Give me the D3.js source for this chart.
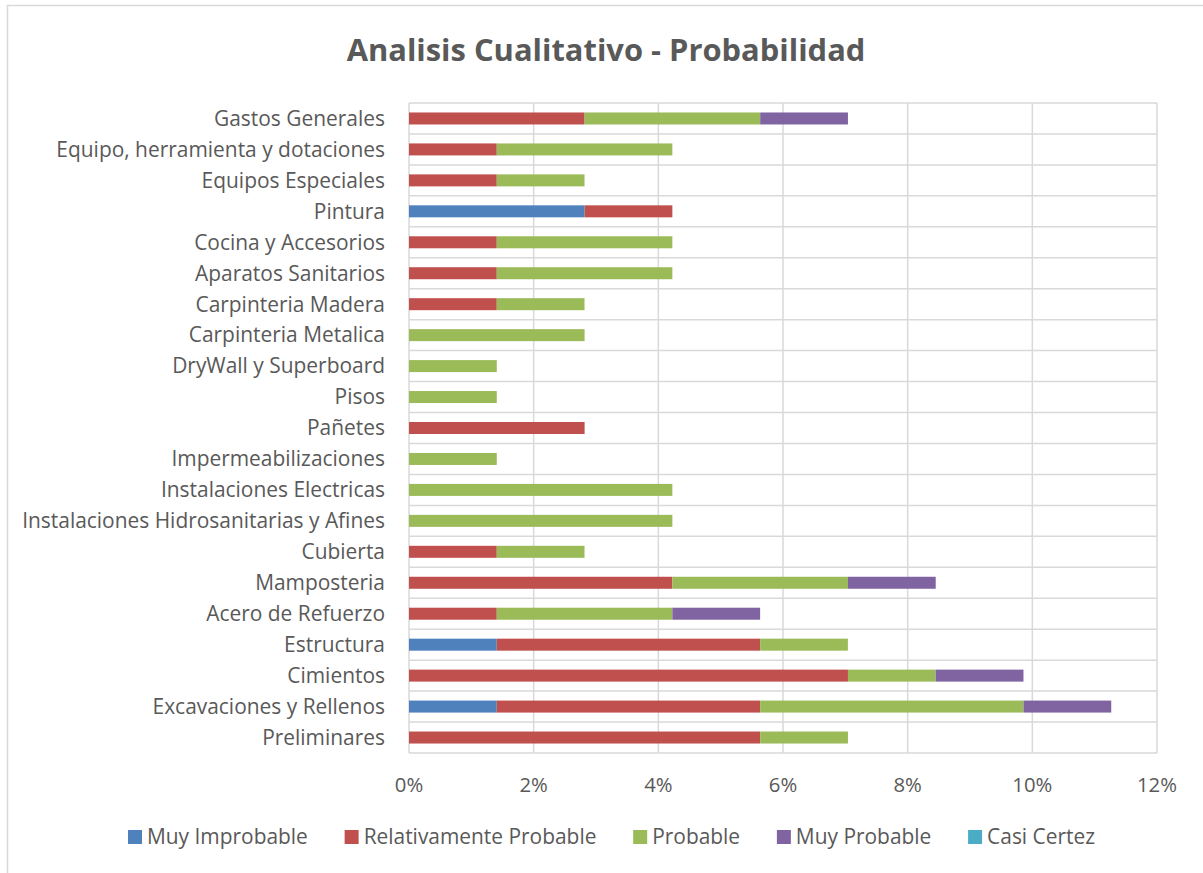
<!DOCTYPE html>
<html><head><meta charset="utf-8">
<script src="https://cdn.jsdelivr.net/npm/d3@7"></script>
<style>
body{margin:0;background:#fff;}
svg{display:block;font-family:"Open Sans","Noto Sans",sans-serif;}
</style></head>
<body>
<svg id="c" width="1203" height="873"></svg>
<script>
const categories = ["Gastos Generales","Equipo, herramienta y dotaciones","Equipos Especiales","Pintura","Cocina y Accesorios","Aparatos Sanitarios","Carpinteria Madera","Carpinteria Metalica","DryWall y Superboard","Pisos","Pañetes","Impermeabilizaciones","Instalaciones Electricas","Instalaciones Hidrosanitarias y Afines","Cubierta","Mamposteria","Acero de Refuerzo","Estructura","Cimientos","Excavaciones y Rellenos","Preliminares"];
const seriesNames = ["Muy Improbable","Relativamente Probable","Probable","Muy Probable","Casi Certez"];
const muyImprobable = [0,0,0,2.817,0,0,0,0,0,0,0,0,0,0,0,0,0,1.408,0,1.408,0];
const relativamenteProbable = [2.817,1.408,1.408,1.408,1.408,1.408,1.408,0,0,0,2.817,0,0,0,1.408,4.225,1.408,4.225,7.042,4.225,5.634];
const probable = [2.817,2.817,1.408,0,2.817,2.817,1.408,2.817,1.408,1.408,0,1.408,4.225,4.225,1.408,2.817,2.817,1.408,1.408,4.225,1.408];
const muyProbable = [1.408,0,0,0,0,0,0,0,0,0,0,0,0,0,0,1.408,1.408,0,1.408,1.408,0];
const casiCertez = [0,0,0,0,0,0,0,0,0,0,0,0,0,0,0,0,0,0,0,0,0];
const xTicks = [0,2,4,6,8,10,12];
const colors = ["#4F81BD","#C0504D","#9BBB59","#8064A2","#4BACC6"];

const svg = d3.select("#c");
const textColor = "#595959";
const grid = "#d9d9d9";

// fit a font size so that a reference string has a given width
function fitSize(str, target, weight){
  const t = svg.append("text").attr("font-size",20).attr("font-weight",weight||"normal").text(str);
  const w = t.node().getComputedTextLength();
  t.remove();
  return 20*target/w;
}
const labelSize = fitSize("Instalaciones Hidrosanitarias y Afines", 363);
const titleSize = fitSize("Analisis Cualitativo - Probabilidad", 519, "bold");
const tickSize = fitSize("12%", 40);
const legendSize = fitSize("Muy Improbable", 161);

// chart border
svg.append("rect").attr("x",7.5).attr("y",5.5).attr("width",1210).attr("height",880)
  .attr("fill","none").attr("stroke","#d9d9d9").attr("stroke-width",1.5);

svg.append("text").attr("x",606).attr("y",61).attr("text-anchor","middle")
  .attr("font-size",titleSize).attr("font-weight","bold").attr("fill",textColor)
  .text("Analisis Cualitativo - Probabilidad");

const m = {left:409, right:1157, top:103, bottom:753};
const x = d3.scaleLinear().domain([0,12]).range([m.left,m.right]);
const y = d3.scaleBand().domain(categories).range([m.top,m.bottom]).paddingInner(0).paddingOuter(0);

const g = svg.append("g");
g.selectAll(".vg").data(xTicks).join("line")
  .attr("x1",d=>x(d)).attr("x2",d=>x(d)).attr("y1",m.top).attr("y2",m.bottom)
  .attr("stroke",grid).attr("stroke-width",1.5);
const bounds = categories.map(c=>y(c)).concat([m.bottom]);
g.selectAll(".hg").data(bounds).join("line")
  .attr("x1",m.left).attr("x2",m.right).attr("y1",d=>d).attr("y2",d=>d)
  .attr("stroke",grid).attr("stroke-width",1.5);

const table = categories.map((c,i)=>({cat:c,"Muy Improbable":muyImprobable[i],"Relativamente Probable":relativamenteProbable[i],"Probable":probable[i],"Muy Probable":muyProbable[i],"Casi Certez":casiCertez[i]}));
const stacked = d3.stack().keys(seriesNames)(table);
const barH = 12;
stacked.forEach((s,si)=>{
  g.selectAll(".b"+si).data(s.filter(d=>d[1]-d[0]>0)).join("rect")
    .attr("x",d=>x(d[0])).attr("width",d=>x(d[1])-x(d[0]))
    .attr("y",d=>y(d.data.cat)+y.bandwidth()/2-barH/2).attr("height",barH)
    .attr("fill",colors[si]);
});

svg.append("g").selectAll("text").data(categories).join("text")
  .attr("x",385).attr("y",d=>y(d)+y.bandwidth()/2).attr("dy","0.35em")
  .attr("text-anchor","end").attr("font-size",labelSize).attr("fill",textColor).text(d=>d);

svg.append("g").selectAll("text").data(xTicks).join("text")
  .attr("x",d=>x(d)).attr("y",785).attr("dy","0.35em").attr("text-anchor","middle")
  .attr("font-size",tickSize).attr("fill",textColor).text(d=>d+"%");

const lg = svg.append("g");
const items = lg.selectAll("g").data(seriesNames).join("g");
items.append("rect").attr("width",14).attr("height",14).attr("y",-7).attr("fill",(d,i)=>colors[i]);
items.append("text").attr("x",19).attr("dy","0.35em").attr("font-size",legendSize).attr("fill",textColor).text(d=>d);
const widths = [];
items.each(function(){widths.push(this.getBBox().width);});
const total = 1095-128;
const gap = (total-d3.sum(widths))/(seriesNames.length-1);
let cx = 128;
items.attr("transform",(d,i)=>{const t=`translate(${cx},837)`; cx+=widths[i]+gap; return t;});
</script>
</body></html>
